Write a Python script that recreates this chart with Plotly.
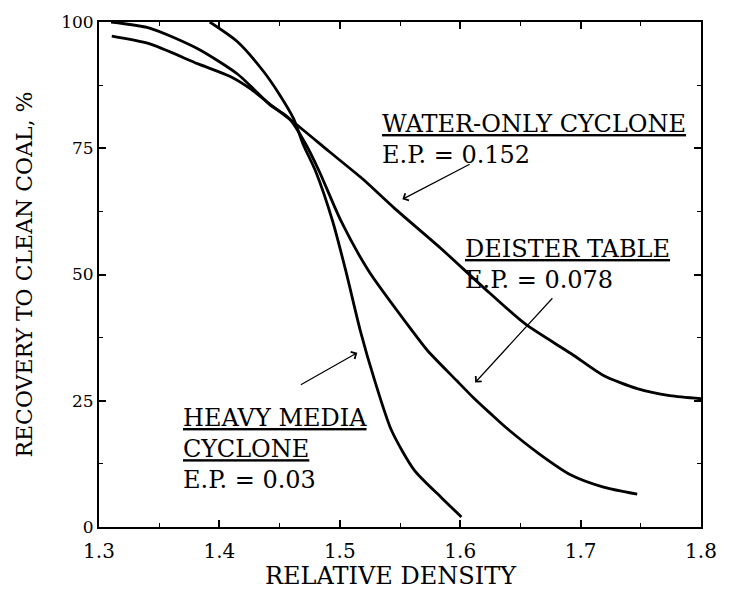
import plotly.graph_objects as go

# ---- data ----
water_x = [1.3106, 1.3416, 1.3824, 1.409, 1.4256, 1.4395, 1.464, 1.4909, 1.5186, 1.5455,
           1.5838, 1.619, 1.654, 1.6923, 1.719, 1.747, 1.774, 1.8]
water_y = [97.2, 95.7, 91.7, 89.2, 86.8, 84.2, 79.7, 74.4, 69.0, 63.1,
           55.2, 47.5, 40.2, 34.3, 30.0, 27.4, 26.0, 25.4]

deister_x = [1.31, 1.342, 1.382, 1.415, 1.429, 1.442, 1.458, 1.472, 1.483, 1.501, 1.524, 1.560,
             1.573, 1.597, 1.611, 1.625, 1.638, 1.665, 1.692, 1.719, 1.747]
deister_y = [100.0, 98.8, 94.7, 89.7, 86.6, 83.6, 80.9, 75.7, 70.4, 60.6, 50.7, 38.9,
             34.9, 29.0, 25.6, 22.5, 19.7, 14.6, 10.3, 7.9, 6.5]

hm_x = [1.392, 1.415, 1.437, 1.450, 1.4615, 1.4697, 1.480, 1.494, 1.505, 1.517, 1.529, 1.543,
        1.562, 1.584, 1.601]
hm_y = [100.0, 96.1, 90.1, 85.6, 80.9, 75.7, 70.4, 60.6, 50.7, 38.9, 29.0, 19.1,
        11.2, 5.9, 2.0]

x_ticks = [1.3, 1.4, 1.5, 1.6, 1.7, 1.8]
x_tick_labels = ["1.3", "1.4", "1.5", "1.6", "1.7", "1.8"]
y_ticks = [0, 25, 50, 75, 100]
y_tick_labels = ["0", "25", "50", "75", "100"]

labels = [
    ("<u>WATER-ONLY CYCLONE</u><br>E.P. = 0.152", 1.5333, 83.0),
    ("<u>DEISTER TABLE</u><br>E.P. = 0.078", 1.6026, 58.3),
    ("<u>HEAVY MEDIA</u><br><u>CYCLONE</u><br>E.P. = 0.03", 1.3685, 24.8),
]
# arrows: (tail x, tail y, tip x, tip y)
arrows = [
    (1.6091, 72.0, 1.552, 64.9),
    (1.6777, 45.6, 1.6124, 28.6),
    (1.4664, 28.0, 1.5145, 34.5),
]

FONT = "DejaVu Serif"

fig = go.Figure()
for xs, ys, nm in [(water_x, water_y, "Water-only cyclone"),
                   (deister_x, deister_y, "Deister table"),
                   (hm_x, hm_y, "Heavy media cyclone")]:
    fig.add_trace(go.Scatter(x=xs, y=ys, mode="lines", name=nm,
                             line=dict(color="black", width=2.8, shape="spline", smoothing=0.7),
                             showlegend=False))

for txt, x, y in labels:
    fig.add_annotation(x=x, y=y, xref="x", yref="y", text=txt, showarrow=False,
                       xanchor="left", yanchor="top", align="left",
                       font=dict(family=FONT, size=24, color="black"))

for tx, ty, hx, hy in arrows:
    fig.add_annotation(x=hx, y=hy, ax=tx, ay=ty, xref="x", yref="y", axref="x", ayref="y",
                       text="", showarrow=True, arrowhead=4, arrowsize=1.3, arrowwidth=1.2,
                       arrowcolor="black")

# x-axis title placed as paper annotation to match reference spacing
fig.add_annotation(x=0.4845, y=-0.097, xref="paper", yref="paper", text="RELATIVE DENSITY",
                   showarrow=False, xanchor="center", yanchor="middle",
                   font=dict(family=FONT, size=24, color="black"))

fig.update_layout(
    width=729, height=601,
    margin=dict(l=99, r=17, t=20, b=74),
    paper_bgcolor="white", plot_bgcolor="white",
    font=dict(family=FONT, color="black"),
)
fig.update_xaxes(
    range=[1.3, 1.8], tickvals=x_ticks, ticktext=x_tick_labels,
    ticks="inside", ticklen=7, tickwidth=1.5, tickcolor="black",
    minor=dict(ticks="inside", ticklen=4, tickwidth=1.2, tickcolor="black", dtick=0.05, showgrid=False),
    showline=True, linecolor="black", linewidth=2, mirror="ticks",
    showgrid=False, zeroline=False, tickfont=dict(family=FONT, size=20),
    ticklabelstandoff=5,
)
fig.update_yaxes(
    range=[0, 100], tickvals=y_ticks, ticktext=y_tick_labels,
    ticks="inside", ticklen=7, tickwidth=1.5, tickcolor="black",
    minor=dict(ticks="inside", ticklen=4, tickwidth=1.2, tickcolor="black", dtick=12.5, showgrid=False),
    showline=True, linecolor="black", linewidth=2, mirror="ticks",
    showgrid=False, zeroline=False, tickfont=dict(family=FONT, size=17),
    title=dict(text="RECOVERY TO CLEAN COAL, %", font=dict(family=FONT, size=22), standoff=22),
)

fig.write_html("out.html", config={"displayModeBar": False},
               post_script="document.body.style.margin='0';document.body.style.overflow='hidden';")
